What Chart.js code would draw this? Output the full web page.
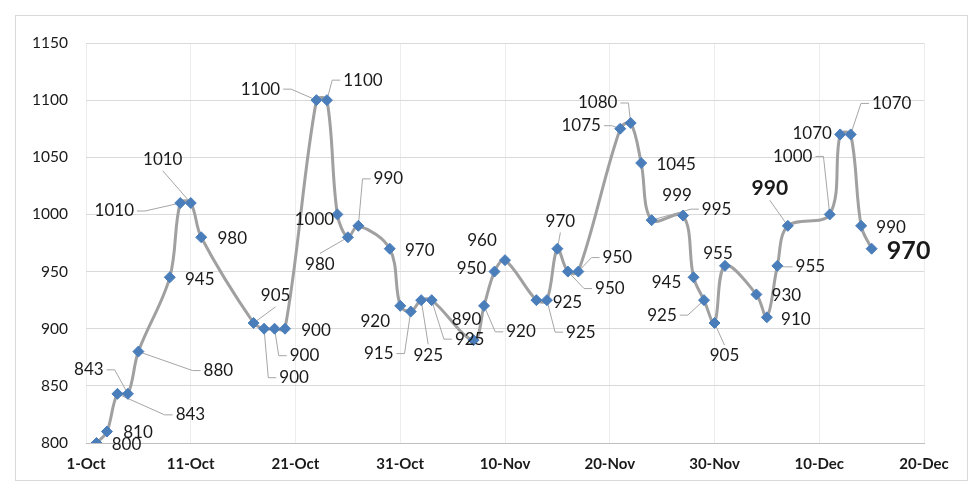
<!DOCTYPE html>
<html>
<head>
<meta charset="utf-8">
<script src="https://cdn.jsdelivr.net/npm/chart.js@4"></script>
<style>
  html, body { margin: 0; padding: 0; background: #fff; }
  #wrap { width: 980px; height: 498px; }
</style>
</head>
<body>
<div id="wrap"><canvas id="priceChart" width="980" height="498"></canvas></div>
<script>
// --- data ---
const dates = ['2-Oct','3-Oct','4-Oct','5-Oct','6-Oct','9-Oct','10-Oct','11-Oct','12-Oct','17-Oct',
  '18-Oct','19-Oct','20-Oct','23-Oct','24-Oct','25-Oct','26-Oct','27-Oct','30-Oct','31-Oct',
  '1-Nov','2-Nov','3-Nov','7-Nov','8-Nov','9-Nov','10-Nov','13-Nov','14-Nov','15-Nov',
  '16-Nov','17-Nov','21-Nov','22-Nov','23-Nov','24-Nov','27-Nov','28-Nov','29-Nov','30-Nov',
  '1-Dec','4-Dec','5-Dec','6-Dec','7-Dec','11-Dec','12-Dec','13-Dec','14-Dec','15-Dec'];
const prices = [800, 810, 843, 843, 880, 945, 1010, 1010, 980, 905,
  900, 900, 900, 1100, 1100, 1000, 980, 990, 970, 920,
  915, 925, 925, 890, 920, 950, 960, 925, 925, 970,
  950, 950, 1075, 1080, 1045, 995, 999, 945, 925, 905,
  955, 930, 910, 955, 990, 1000, 1070, 1070, 990, 970];
const xTickLabels = ['1-Oct','11-Oct','21-Oct','31-Oct','10-Nov','20-Nov','30-Nov','10-Dec','20-Dec'];
const yTicks = [800, 850, 900, 950, 1000, 1050, 1100, 1150];

// label placement: [dx, dy, leader] relative to the point
// leader: 0 none, 1 from the label's side with a short elbow, 2 straight from top/bottom
const labelPos = [
  [30, 2, 0], [31, 1, 0], [73, 21, 1], [-39, -24, 1], [80, 19, 1], [30, 2, 0], [-66, 8, 1], [-28, -43, 2], [31, 1, 0], [22, -27, 2],
  [30, 49, 1], [30, 27, 1], [31, 2, 0], [-56, -11, 1], [36, -20, 1], [-23, 5, 0], [-28, 27, 2], [30, -47, 1], [30, 2, 0], [-25, 16, 0],
  [-32, 42, 1], [7, 55, 2], [38, 39, 1], [-7, -21, 0], [37, 26, 1], [-23, -3, 0], [-23, -20, 0], [31, 2, 0], [34, 32, 1], [3, -27, 2],
  [42, 17, 1], [39, -14, 1], [-39, -3, 1], [-33, -20, 1], [35, 2, 0], [65, -11, 1], [-6, -20, 0], [-27, 5, 0], [-42, 15, 1], [10, 33, 2],
  [-7, -12, 0], [30, 1, 0], [29, 2, 0], [33, 1, 1], [-18, -38, 2], [-37, -58, 1], [-28, -1, 0], [41, -31, 1], [30, 2, 0], [37, 2, 0]
];
const labelFont = {44: 'bold 21px Lato', 49: 'bold 25px Lato'};

function dayOffset(s) {
  const [d, m] = s.split('-');
  const base = {Oct: -1, Nov: 30, Dec: 60}[m];
  return base + parseInt(d, 10);
}

const points = dates.map((d, i) => ({x: dayOffset(d), y: prices[i]}));

const frame = {
  id: 'frame',
  beforeDraw(chart) {
    const ctx = chart.ctx;
    ctx.save();
    ctx.fillStyle = '#fff';
    ctx.fillRect(0, 0, chart.width, chart.height);
    ctx.strokeStyle = '#d9d9d9';
    ctx.lineWidth = 1;
    ctx.strokeRect(15.5, 15.5, 952, 465);
    ctx.restore();
  }
};

function labelBox(ctx, pt, i) {
  const [dx, dy] = labelPos[i];
  const font = labelFont[i] || '17px Lato';
  ctx.font = font;
  const w = ctx.measureText(String(prices[i])).width;
  const h = parseFloat(font.match(/(\d+(\.\d+)?)px/)[1]) * 0.8;
  return {cx: pt.x + dx, cy: pt.y + dy, w, h, font};
}

const pointLabels = {
  id: 'pointLabels',
  beforeDatasetsDraw(chart) {
    const ctx = chart.ctx;
    const meta = chart.getDatasetMeta(0);
    ctx.save();
    ctx.strokeStyle = '#a6a6a6';
    ctx.lineWidth = 1;
    meta.data.forEach((pt, i) => {
      const mode = labelPos[i][2];
      if (!mode) return;
      const b = labelBox(ctx, pt, i);
      ctx.beginPath();
      if (mode === 1) {
        const side = pt.x > b.cx ? 1 : -1;
        const ax = b.cx + side * (b.w / 2 + 3);
        ctx.moveTo(ax, b.cy);
        ctx.lineTo(ax + side * 8, b.cy);
      } else {
        const side = pt.y > b.cy ? 1 : -1;
        ctx.moveTo(b.cx, b.cy + side * (b.h / 2 + 4));
      }
      ctx.lineTo(pt.x, pt.y);
      ctx.stroke();
    });
    ctx.restore();
  },
  afterDatasetsDraw(chart) {
    const ctx = chart.ctx;
    const meta = chart.getDatasetMeta(0);
    ctx.save();
    ctx.fillStyle = '#1a1a1a';
    ctx.textAlign = 'center';
    ctx.textBaseline = 'middle';
    meta.data.forEach((pt, i) => {
      const b = labelBox(ctx, pt, i);
      ctx.font = b.font;
      ctx.fillText(String(prices[i]), b.cx, b.cy);
    });
    ctx.restore();
  }
};

new Chart(document.getElementById('priceChart'), {
  type: 'line',
  data: {
    datasets: [{
      data: points,
      borderColor: '#a0a0a0',
      borderWidth: 3,
      tension: 0.35,
      pointStyle: 'rectRot',
      pointRadius: 5.5,
      pointBackgroundColor: '#4a7ebb',
      pointBorderColor: '#4a7ebb',
      pointBorderWidth: 1
    }]
  },
  options: {
    responsive: false,
    animation: false,
    layout: { padding: { top: 43, right: 56, bottom: 25, left: 0 } },
    plugins: {
      legend: { display: false },
      tooltip: { enabled: false }
    },
    scales: {
      x: {
        type: 'linear',
        min: 0,
        max: 80,
        afterFit: s => { s.height = 30; },
        afterBuildTicks: s => { s.ticks = xTickLabels.map((t, i) => ({value: i * 10})); },
        ticks: {
          padding: 12,
          color: '#1a1a1a',
          font: { family: 'Lato', size: 15, weight: 'bold' },
          maxRotation: 0,
          callback: v => xTickLabels[v / 10]
        },
        grid: { color: '#ededed', drawTicks: false },
        border: { color: '#bfbfbf' }
      },
      y: {
        min: yTicks[0],
        max: yTicks[yTicks.length - 1],
        afterFit: s => { s.width = 86; },
        afterBuildTicks: s => { s.ticks = yTicks.map(v => ({value: v})); },
        ticks: {
          padding: 18,
          color: '#1a1a1a',
          font: { family: 'Lato', size: 15.5 },
          callback: v => String(v)
        },
        grid: { color: '#d9d9d9', drawTicks: false },
        border: { display: false }
      }
    }
  },
  plugins: [frame, pointLabels]
});
</script>
</body>
</html>
